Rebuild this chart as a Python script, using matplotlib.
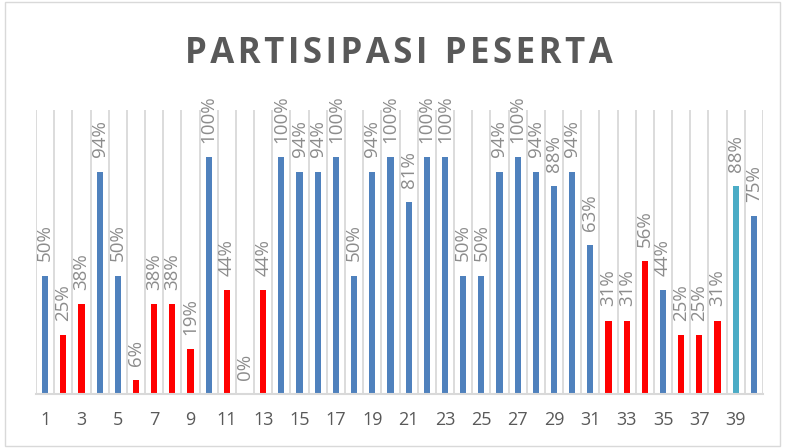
import matplotlib
matplotlib.use("Agg")
import matplotlib.pyplot as plt
from matplotlib.patches import Rectangle

# ========== data ==========
peserta = list(range(1, 41))
persen = [50, 25, 38, 94, 50, 6, 38, 38, 19, 100,
          44, 0, 44, 100, 94, 94, 100, 50, 94, 100,
          81, 100, 100, 50, 50, 94, 100, 94, 88, 94,
          63, 31, 31, 56, 44, 25, 25, 31, 88, 75]
kategori = ["b", "r", "r", "b", "b", "r", "r", "r", "r", "b",
            "r", "r", "r", "b", "b", "b", "b", "b", "b", "b",
            "b", "b", "b", "b", "b", "b", "b", "b", "b", "b",
            "b", "r", "r", "r", "b", "r", "r", "r", "t", "b"]
tick_labels = [str(i) for i in range(1, 40, 2)]

warna = {"b": "#4F81BD", "r": "#FF0000", "t": "#4BACC6"}

# ========== figure ==========
fig = plt.figure(figsize=(7.85, 4.48), dpi=100)
fig.patches.append(Rectangle((0.006, 0.004), 0.988, 0.992, transform=fig.transFigure,
                             fill=False, edgecolor="#D9D9D9", linewidth=1))
ax = fig.add_axes([0.0459, 0.1205, 0.9261, 0.634])

for x in range(0, 41):
    ax.axvline(x + 0.5, color="#D9D9D9", linewidth=1.3, zorder=0)

ax.bar(peserta, [p / 100 for p in persen], width=0.34,
       color=[warna[k] for k in kategori], zorder=2)

for x, p in zip(peserta, persen):
    ax.text(x, p / 100 + 0.06, f"{p}%", rotation=90, ha="center", va="bottom",
            fontsize=13.5, color="#8C8C8C", family="Open Sans")

ax.set_xlim(0.5, 40.5)
ax.set_ylim(0, 1.2)
ax.set_yticks([])
ax.set_xticks(range(1, 40, 2))
ax.set_xticklabels(tick_labels, fontsize=13, color="#595959", family="Open Sans")
ax.tick_params(axis="x", length=0, pad=12)
for s in ["top", "right", "left"]:
    ax.spines[s].set_visible(False)
ax.spines["bottom"].set_color("#D9D9D9")
ax.spines["bottom"].set_linewidth(1.5)

judul = "\u200a".join("PARTISIPASI") + "\u2002" + "\u200a".join("PESERTA")
fig.text(0.508, 0.880, judul, ha="center", va="center", fontsize=25, fontweight="bold",
         color="#595959", family="Open Sans")

fig.savefig("out.png", dpi=100)
